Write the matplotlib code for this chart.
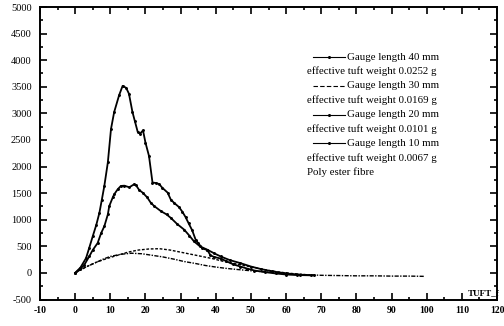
import matplotlib
matplotlib.use("Agg")
import matplotlib.pyplot as plt
from matplotlib.lines import Line2D
from matplotlib.ticker import MultipleLocator

plt.rcParams['axes.unicode_minus'] = False
plt.rcParams['font.family'] = ['Liberation Serif', 'DejaVu Serif']

# Gauge length 40 mm (largest peak)
x40 = [0, 1.5, 3.1, 4, 5, 6, 6.9, 7.6, 8.3, 9.3, 10.2, 11.1, 12.5, 13.5, 14.5, 15.3, 16.3, 17, 17.8,
       18.5, 19.3, 20, 21, 22, 23, 23.9, 24.8, 26.3, 27.2, 28.1, 29.5, 30.5, 31.4, 32.3, 33.3, 34.3,
       35, 36.2, 37.6, 38.5, 39.5, 41.4, 43, 45, 47, 49, 51, 54, 57, 60, 63, 67]
y40 = [0, 100, 278, 470, 688, 900, 1130, 1380, 1635, 2078, 2708, 3025, 3340, 3517, 3480, 3370, 3025,
       2850, 2650, 2620, 2680, 2450, 2200, 1700, 1690, 1670, 1600, 1510, 1380, 1320, 1240, 1150, 1050,
       930, 800, 620, 560, 460, 430, 330, 300, 270, 220, 160, 120, 80, 45, 15, -10, -30, -40, -45]

# Gauge length 30 mm
x30 = [0, 1.5, 2.6, 4, 5, 6.4, 7.4, 8.3, 9.3, 9.7, 10.7, 11.1, 12.1, 13, 14, 15.4, 16.8, 17.3, 18.2,
       19.2, 20.5, 21.5, 22.5, 24.4, 26, 27.2, 29, 31, 32.5, 33.8, 35.5, 37.6, 39.5, 41.4, 44, 47, 50,
       53, 56, 60, 64, 68]
y30 = [0, 80, 151, 309, 430, 562, 750, 877, 1100, 1256, 1420, 1477, 1572, 1635, 1640, 1610, 1667, 1650,
       1560, 1509, 1420, 1320, 1256, 1161, 1100, 1035, 920, 814, 700, 593, 500, 436, 370, 309, 240,
       184, 120, 70, 30, -10, -35, -45]

# Gauge length 20 mm
x20 = [0, 3, 6, 9, 12, 15, 18, 21, 24, 27, 30, 33, 36, 39, 42, 45, 48, 51, 54, 57, 60, 63, 66]
y20 = [0, 110, 200, 270, 330, 390, 430, 450, 455, 430, 390, 350, 310, 270, 220, 180, 140, 100, 60, 25,
       0, -20, -35]

# Gauge length 10 mm
x10 = [0, 3, 5.5, 8, 10, 13, 16, 19, 22, 25, 28, 31, 34, 37, 40, 43, 46, 50, 54, 58, 62, 66, 70, 75,
       80, 85, 90, 95, 99.5]
y10 = [0, 110, 184, 260, 310, 350, 370, 360, 330, 300, 260, 214, 180, 140, 110, 85, 65, 40, 20, 0, -20,
       -35, -45, -50, -55, -55, -60, -60, -65]

legend_lines = ["Gauge length 40 mm", "effective tuft weight 0.0252 g",
                "Gauge length 30 mm", "effective tuft weight 0.0169 g",
                "Gauge length 20 mm", "effective tuft weight 0.0101 g",
                "Gauge length 10 mm", "effective tuft weight 0.0067 g",
                "Poly ester fibre"]

xticks = list(range(-10, 121, 10))
yticks = list(range(-500, 5001, 500))

fig = plt.figure(figsize=(5.04, 3.26), dpi=100)
ax = fig.add_axes([40/504, 26.5/326, 457/504, 292.5/326])

ax.plot(x40, y40, color='black', lw=1.3, marker='o', ms=1.1)
ax.plot(x30, y30, color='black', lw=1.3, marker='o', ms=1.1)
ax.plot(x20, y20, color='black', lw=1.0, ls=(0, (2, 1.2)))
ax.plot(x10, y10, color='black', lw=1.0, ls=(0, (3, 1, 1, 1)))

ax.set_xlim(-10, 120)
ax.set_ylim(-500, 5000)
ax.set_xticks(xticks)
ax.set_xticklabels([str(v) for v in xticks], fontsize=7, fontweight='bold')
ax.set_yticks(yticks)
ax.set_yticklabels([str(v) for v in yticks], fontsize=7.5)
ax.xaxis.set_minor_locator(MultipleLocator(5))
ax.yaxis.set_minor_locator(MultipleLocator(250))
ax.tick_params(which='both', direction='in', top=True, right=True, width=1.2)
ax.tick_params(which='major', length=5)
ax.tick_params(which='minor', length=2.5)
ax.tick_params(axis='x', pad=5)
ax.tick_params(axis='y', pad=6)
for s in ax.spines.values():
    s.set_linewidth(1.4)

# manual legend text block
y0 = 57
dy = 14.4
for i, t in enumerate(legend_lines):
    py = y0 + i * dy
    if t.startswith("Gauge"):
        fig.text(347/504, 1 - py/326, t, fontsize=7.8, va='center', ha='left')
    else:
        fig.text(307/504, 1 - py/326, t, fontsize=7.8, va='center', ha='left')

styles = [dict(ls='-', marker='o', ms=1.2, markevery=[1]),
          dict(ls=(0, (4, 2))),
          dict(ls='-', marker='o', ms=1.2, markevery=[1]),
          dict(ls='-', marker='o', ms=1.2, markevery=[1])]
for i, st in enumerate(styles):
    py = 1 - (y0 + 2 * i * dy) / 326
    fig.add_artist(Line2D([313/504, 329/504, 345/504], [py, py, py], color='black', lw=0.8,
                          transform=fig.transFigure, **st))

fig.text(468/504, 1 - 293/326, "TUFT_f", fontsize=6.5, fontweight='bold', va='center', ha='left')

fig.savefig("out.png", dpi=100)
